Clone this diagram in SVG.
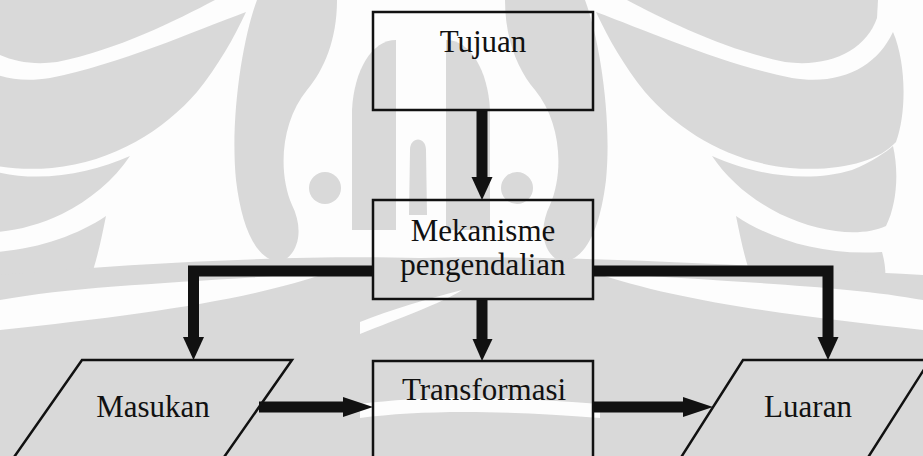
<svg xmlns="http://www.w3.org/2000/svg" width="923" height="456" viewBox="0 0 923 456">
  <defs>
    <style>
      .wm { fill: #d9d9d9; stroke: none; }
      .wh { fill: #fdfdfd; stroke: none; }
      .box { fill: none; stroke: #111; stroke-width: 2.5; }
      .lbl { font-family: "Liberation Serif", "Times New Roman", serif; font-size: 31px; fill: #111; text-anchor: middle; }
      .wire { fill: none; stroke: #111; stroke-width: 11; stroke-linejoin: miter; }
      .head { fill: #111; stroke: none; }
    </style>
    <!-- one half of the watermark ornament, mirrored about x = 421 -->
    <g id="wm-half">
      <path class="wm" d="M627,0 C665,20 725,50 785,62 C830,68 866,50 877,18 L878,0 Z"/>
      <path class="wm" d="M596,12 C650,32 722,64 792,78 C842,86 877,66 893,32 C906,62 907,112 896,142 C878,162 838,172 790,168 C728,162 678,130 645,92 C624,66 608,38 596,12 Z"/>
      <path class="wm" d="M712,156 C752,174 806,184 852,170 C872,162 886,152 893,146 C899,172 897,204 886,226 C860,238 818,232 780,214 C752,200 728,180 712,156 Z"/>
      <path class="wm" d="M736,216 C772,240 824,256 882,252 C890,280 884,306 866,322 C836,340 796,338 772,316 C752,292 744,256 736,216 Z"/>
      <path class="wm" d="M505,0 L585,0 C600,40 612,120 606,180 C600,230 585,262 560,262 C540,250 540,225 550,205 C565,170 560,120 535,90 C518,70 505,40 505,0 Z"/>
      <circle class="wm" cx="517" cy="188" r="16"/>
      <path class="wm" d="M446,40 C470,40 488,70 490,110 L490,230 L446,230 Z"/>
    </g>
  </defs>

  <rect width="923" height="456" fill="#fdfdfd"/>

  <!-- watermark ornament -->
  <g id="watermark">
    <use href="#wm-half"/>
    <use href="#wm-half" transform="translate(842,0) scale(-1,1)"/>
    <path class="wm" d="M409,215 L410,150 C410,136 426,136 426,150 L427,215 Z"/>
    <path class="wm" d="M0,275 C150,262 300,255 420,258 C540,255 700,262 923,275 L923,456 L0,456 Z"/>
    <path class="wh" d="M0,300 C80,285 200,282 330,272 C250,300 140,315 0,330 Z"/>
    <path class="wh" d="M923,300 C843,285 723,282 593,272 C673,300 783,315 923,330 Z"/>
    <path class="wh" d="M360,404 C420,396 500,396 600,404 L600,418 C500,410 420,410 360,418 Z"/>
    <path class="wh" d="M360,322 C390,310 430,298 462,290 C440,304 400,318 360,334 Z"/>
  </g>

  <!-- connectors -->
  <g id="connectors">
    <line class="wire" x1="482" y1="110" x2="482" y2="178"/>
    <polygon class="head" points="471.5,177 492.5,177 482,200"/>

    <line class="wire" x1="482" y1="299" x2="482" y2="340"/>
    <polygon class="head" points="472.5,339 492.5,339 482,361"/>

    <polyline class="wire" points="373,271 193.5,271 193.5,338"/>
    <polygon class="head" points="183,337 204,337 193.5,360"/>

    <polyline class="wire" points="593,271 828,271 828,338"/>
    <polygon class="head" points="817.5,337 838.5,337 828,360"/>

    <line class="wire" x1="259" y1="407" x2="344" y2="407"/>
    <polygon class="head" points="343,397 343,417 373,407"/>

    <line class="wire" x1="593" y1="407" x2="684" y2="407"/>
    <polygon class="head" points="683,397 683,417 713,407"/>
  </g>

  <g id="tujuan">
    <rect class="box" x="373" y="12" width="220" height="98"/>
    <text class="lbl" x="483" y="52">Tujuan</text>
  </g>

  <g id="mekanisme">
    <rect class="box" x="373" y="200" width="220" height="99"/>
    <text class="lbl" x="483" y="241">Mekanisme</text>
    <text class="lbl" x="483" y="275">pengendalian</text>
  </g>

  <g id="transformasi">
    <rect class="box" x="373" y="361" width="220" height="110"/>
    <text class="lbl" x="484" y="400">Transformasi</text>
  </g>

  <g id="masukan">
    <polygon class="box" points="82,360 292,360 215,470 5,470"/>
    <text class="lbl" x="153" y="417">Masukan</text>
  </g>

  <g id="luaran">
    <polygon class="box" points="743,360 930,360 860,470 673,470"/>
    <text class="lbl" x="808" y="417">Luaran</text>
  </g>
</svg>
